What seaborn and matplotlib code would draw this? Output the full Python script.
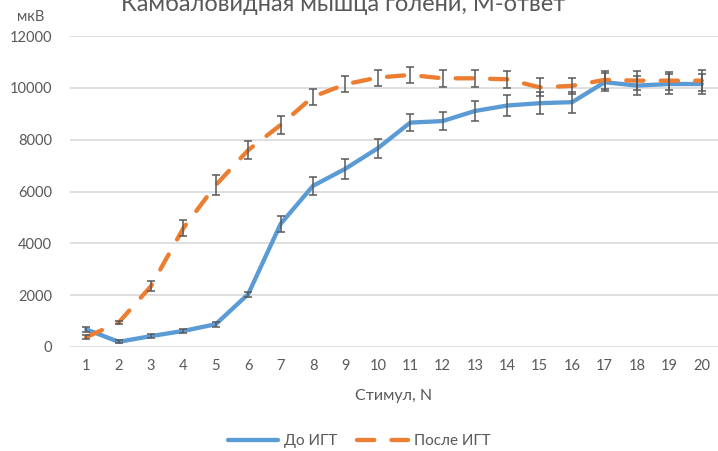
import matplotlib
matplotlib.use("Agg")
import matplotlib.pyplot as plt
from matplotlib.lines import Line2D
import seaborn as sns
import pandas as pd

# values
stimulus = list(range(1, 21))
before_igt = [680, 200, 420, 620, 880, 2040, 4750, 6220, 6880, 7670, 8660, 8720,
              9110, 9320, 9410, 9450, 10220, 10090, 10150, 10150]
before_err = [110, 60, 70, 80, 90, 100, 320, 350, 380, 370, 340, 360,
              380, 400, 420, 400, 350, 350, 390, 390]
after_igt = [380, 940, 2350, 4590, 6250, 7600, 8570, 9660, 10140, 10400, 10500, 10370,
             10370, 10330, 10020, 10080, 10310, 10280, 10280, 10280]
after_err = [80, 70, 200, 310, 370, 350, 340, 310, 300, 310, 320, 320,
             320, 330, 350, 310, 360, 360, 350, 400]

label_before = "До ИГТ"
label_after = "После ИГТ"

df = pd.DataFrame({
    "Стимул": stimulus * 2,
    "мкВ": before_igt + after_igt,
    "group": [label_before] * 20 + [label_after] * 20,
})

sns.set_theme(style="white")
plt.rcParams['font.family'] = ['Lato', 'DejaVu Sans']

blue = "#5B9BD5"
orange = "#ED7D31"
grey = "#595959"

fig = plt.figure(figsize=(7.18, 4.51), dpi=100)
ax = fig.add_axes([0.0975, 0.2306, 0.9025, 0.6894])

sns.lineplot(data=df, x="Стимул", y="мкВ", hue="group", style="group",
             palette={label_before: blue, label_after: orange},
             dashes={label_before: "", label_after: (4, 4)},
             linewidth=3.1, ax=ax, legend=False,
             solid_capstyle="round", dash_capstyle="round")

ax.errorbar(stimulus, before_igt, yerr=before_err, fmt="none", ecolor=grey,
            elinewidth=1.1, capsize=3, capthick=1.1, zorder=3)
ax.errorbar(stimulus, after_igt, yerr=after_err, fmt="none", ecolor=grey,
            elinewidth=1.1, capsize=3, capthick=1.1, zorder=3)

ax.set_xlim(0.5, 20.5)
ax.set_ylim(0, 12000)
ax.set_xticks(stimulus)
ax.set_yticks(range(0, 12001, 2000))
ax.yaxis.grid(True, color="#D9D9D9", linewidth=1.2)
ax.xaxis.grid(False)
ax.set_axisbelow(True)
for s in ax.spines.values():
    s.set_visible(False)
ax.tick_params(axis="both", length=0, labelsize=10.5, labelcolor=grey)
ax.tick_params(axis="x", pad=9)
ax.tick_params(axis="y", pad=13)
ax.set_xlabel("Стимул, N", fontsize=11.5, color=grey, labelpad=11)
ax.set_ylabel("")

fig.text(0.043, 0.962, "мкВ", fontsize=10.5, color=grey, ha="center", va="center")
fig.text(0.478, 0.976, "Камбаловидная мышца голени, М-ответ", fontsize=17,
         color=grey, ha="center", va="baseline")

handles = [
    Line2D([], [], color=blue, linewidth=3.1, solid_capstyle="round"),
    Line2D([], [], color=orange, linewidth=3.1, linestyle=(0, (4, 4)), dash_capstyle="round"),
]
fig.legend(handles, [label_before, label_after], loc="center", bbox_to_anchor=(0.5, 0.022),
           ncol=2, frameon=False, fontsize=11, labelcolor=grey, handlelength=3.3,
           columnspacing=1.3, handletextpad=0.4)

fig.savefig("out.png", dpi=100)
